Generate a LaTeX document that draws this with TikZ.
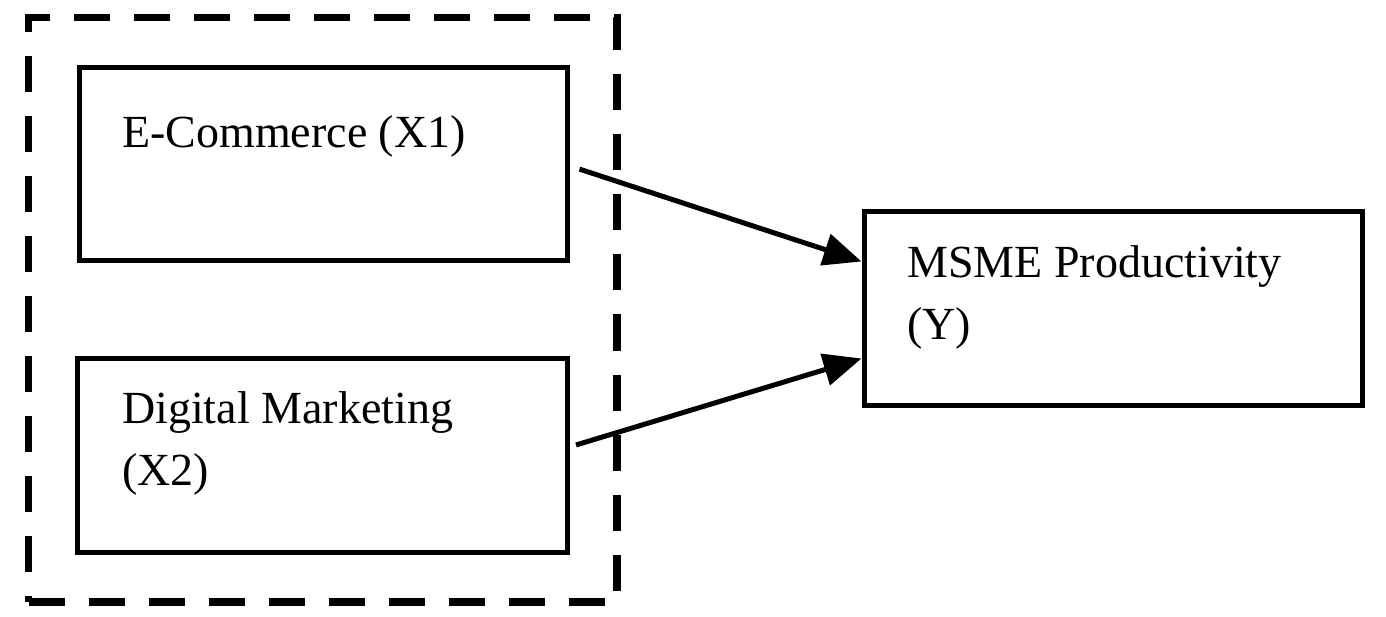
\documentclass[tikz,border=0pt]{standalone}
\usepackage{fontspec}
\setmainfont{Liberation Serif}
\usetikzlibrary{arrows.meta}
\begin{document}
\begin{tikzpicture}[x=1pt,y=-1pt,
  box/.style={draw=black, line width=5pt, fill=white, inner sep=0pt},
  group/.style={draw=black, line width=7.5pt, dash pattern=on 36pt off 24pt, inner sep=0pt},
  lbl/.style={anchor=base west, inner sep=0pt, align=left, font=\fontsize{46}{62}\selectfont},
  link/.style={line width=5pt, -{Triangle[length=38pt,width=32pt]}}
]
\useasboundingbox (0,0) rectangle (1386,617);
\node[group, minimum width=588.5pt, minimum height=584.5pt] (grp) at (322.75,309.75) {};
\node[box, minimum width=488.5pt, minimum height=193pt] (ecom) at (323.25,164) {};
\node[box, minimum width=490pt, minimum height=194pt] (dm) at (322.5,455) {};
\node[box, minimum width=498pt, minimum height=193pt] (msme) at (1113,308.5) {};
\node[lbl] (tecom) at (122,148) {E-Commerce (X1)};
\node[lbl] (tdm) at (122,485) {Digital Marketing\\(X2)};
\node[lbl] (tmsme) at (907,340) {MSME Productivity\\(Y)};
\draw[link, shorten <=10pt] ([yshift=-2pt]ecom.east) -- ([yshift=47pt]msme.west);
\draw[link] ([xshift=6pt,yshift=10pt]dm.east) -- ([yshift=-50pt]msme.west);
\end{tikzpicture}
\end{document}
